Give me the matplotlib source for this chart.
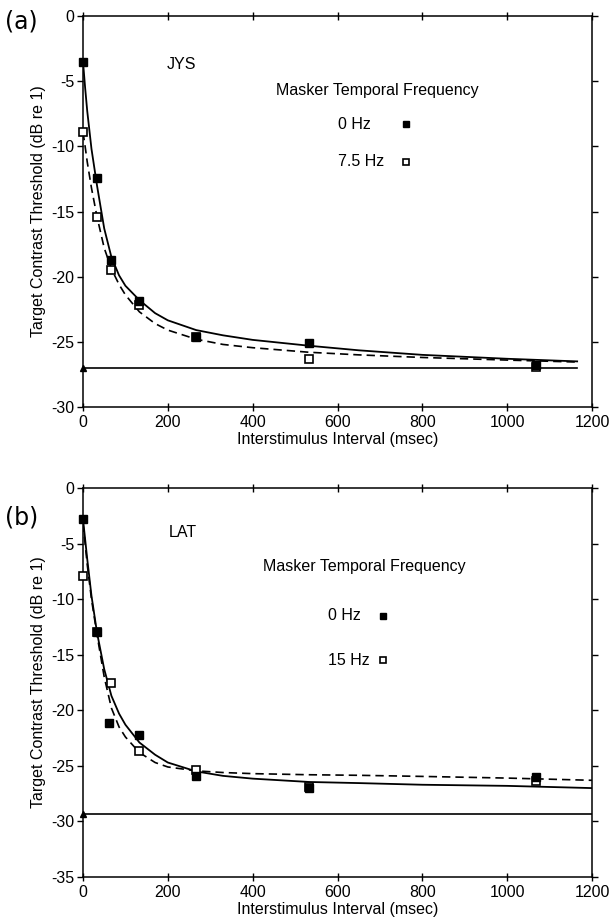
import matplotlib
matplotlib.use("Agg")
import matplotlib.pyplot as plt

plt.rcParams['font.family'] = ['Liberation Sans', 'DejaVu Sans']

# ---------------- Panel (a) data : JYS ----------------
a_isi = [0, 33, 67, 133, 267, 533, 1067]
a_0hz = [-3.5, -12.4, -18.7, -21.9, -24.6, -25.1, -26.8]
a_75hz_isi = [0, 33, 67, 133, 267, 533, 1067]
a_75hz = [-8.9, -15.4, -19.5, -22.2, -24.6, -26.3, -26.95]

a_fit_x = [0, 5, 10, 20, 33, 50, 67, 85, 100, 133, 170, 200, 267, 330, 400, 533, 650, 800, 1000, 1165]
a_fit_0hz = [-3.5, -5.5, -7.3, -10.2, -13.0, -16.3, -18.5, -19.9, -20.7, -21.8, -22.8, -23.35, -24.1, -24.5, -24.85, -25.3, -25.65, -26.0, -26.3, -26.5]
a_fit_75hz = [-8.9, -10.0, -11.2, -13.2, -15.4, -17.8, -19.4, -20.6, -21.4, -22.7, -23.6, -24.1, -24.8, -25.2, -25.45, -25.8, -26.0, -26.2, -26.4, -26.55]
a_baseline = -27.0
a_base_xmax = 1165

# ---------------- Panel (b) data : LAT ----------------
b_isi = [0, 33, 62, 133, 267, 533, 1067]
b_0hz = [-2.8, -13.0, -21.1, -22.2, -25.9, -27.0, -26.0]
b_15hz_isi = [0, 33, 67, 133, 267, 533, 1067]
b_15hz = [-7.9, -13.0, -17.5, -23.7, -25.4, -26.9, -26.4]

b_fit_x = [0, 5, 10, 20, 33, 50, 67, 85, 100, 133, 170, 200, 267, 330, 400, 533, 650, 800, 1000, 1200]
b_fit_0hz = [-2.8, -4.6, -6.4, -9.7, -13.0, -16.3, -18.7, -20.3, -21.3, -22.9, -24.0, -24.7, -25.5, -25.9, -26.15, -26.45, -26.55, -26.7, -26.8, -27.0]
b_fit_15hz = [-3.2, -5.0, -6.9, -10.0, -13.2, -17.0, -19.8, -21.5, -22.4, -23.8, -24.7, -25.1, -25.45, -25.6, -25.7, -25.8, -25.85, -25.95, -26.1, -26.3]
b_baseline = -29.3
b_base_xmax = 1200

x_ticks = [0, 200, 400, 600, 800, 1000, 1200]
a_yticks = [0, -5, -10, -15, -20, -25, -30]
b_yticks = [0, -5, -10, -15, -20, -25, -30, -35]

fig = plt.figure(figsize=(6.11, 9.18), dpi=100)
W, H = 611, 918

def axes_px(l, t, r, b):
    return fig.add_axes([l / W, 1 - b / H, (r - l) / W, (b - t) / H])

ax_a = axes_px(83, 16, 592, 407)
ax_b = axes_px(83, 488, 592, 877)

FS = 11.5
TFS = 11.5
ms = 5.5

def style(ax, yticks, ymin):
    ax.set_xlim(0, 1200)
    ax.set_ylim(ymin, 0)
    ax.set_xticks(x_ticks)
    ax.set_yticks(yticks)
    ax.set_xticklabels([str(v) for v in x_ticks], fontsize=TFS)
    ax.set_yticklabels([str(v) for v in yticks], fontsize=TFS)
    ax.tick_params(axis='x', direction='inout', length=6, width=1.0, pad=3)
    ax.tick_params(axis='y', direction='out', length=4, width=1.0, pad=2)
    ax.tick_params(axis='both', which='both', right=True, top=True)
    for s in ax.spines.values():
        s.set_linewidth(1.1)
    ax.set_xlabel('Interstimulus Interval (msec)', fontsize=FS, labelpad=1)
    ax.set_ylabel('Target Contrast Threshold (dB re 1)', fontsize=FS, labelpad=4)

# Panel (a)
ax = ax_a
ax.plot(a_fit_x, a_fit_0hz, '-', color='black', lw=1.3)
ax.plot(a_fit_x, a_fit_75hz, '--', color='black', lw=1.2, dashes=(5, 3))
ax.plot([0, a_base_xmax], [a_baseline, a_baseline], '-', color='black', lw=1.2)
ax.plot([0], [a_baseline], marker='^', color='black', ms=5, clip_on=False)
ax.plot(a_isi, a_0hz, 's', color='black', ms=ms, ls='none', clip_on=False, zorder=5)
ax.plot(a_75hz_isi, a_75hz, 's', mfc='white', mec='black', mew=1.2, ms=ms, ls='none', clip_on=False, zorder=4)
style(ax, a_yticks, -30)
ax.text(233, -3.7, 'JYS', fontsize=FS, ha='center', va='center')
ax.text(455, -5.75, 'Masker Temporal Frequency', fontsize=FS, ha='left', va='center')
ax.text(600, -8.3, '0 Hz', fontsize=FS, ha='left', va='center')
ax.text(600, -11.2, '7.5 Hz', fontsize=FS, ha='left', va='center')
ax.plot([762], [-8.3], 's', color='black', ms=5)
ax.plot([762], [-11.2], 's', mfc='white', mec='black', mew=1.2, ms=5)
fig.text(5 / W, 1 - 22 / H, '(a)', fontsize=17, family='DejaVu Sans', ha='left', va='center')

# Panel (b)
ax = ax_b
ax.plot(b_fit_x, b_fit_0hz, '-', color='black', lw=1.3)
ax.plot(b_fit_x, b_fit_15hz, '--', color='black', lw=1.2, dashes=(5, 3))
ax.plot([0, b_base_xmax], [b_baseline, b_baseline], '-', color='black', lw=1.2)
ax.plot([0], [b_baseline], marker='^', color='black', ms=5, clip_on=False)
ax.plot(b_isi, b_0hz, 's', color='black', ms=ms, ls='none', clip_on=False, zorder=5)
ax.plot(b_15hz_isi, b_15hz, 's', mfc='white', mec='black', mew=1.2, ms=ms, ls='none', clip_on=False, zorder=4)
style(ax, b_yticks, -35)
ax.text(236, -4.0, 'LAT', fontsize=FS, ha='center', va='center')
ax.text(425, -7.1, 'Masker Temporal Frequency', fontsize=FS, ha='left', va='center')
ax.text(578, -11.5, '0 Hz', fontsize=FS, ha='left', va='center')
ax.text(578, -15.5, '15 Hz', fontsize=FS, ha='left', va='center')
ax.plot([707], [-11.5], 's', color='black', ms=5)
ax.plot([707], [-15.5], 's', mfc='white', mec='black', mew=1.2, ms=5)
fig.text(5 / W, 1 - 517 / H, '(b)', fontsize=17, family='DejaVu Sans', ha='left', va='center')

fig.savefig('out.png', dpi=100)
